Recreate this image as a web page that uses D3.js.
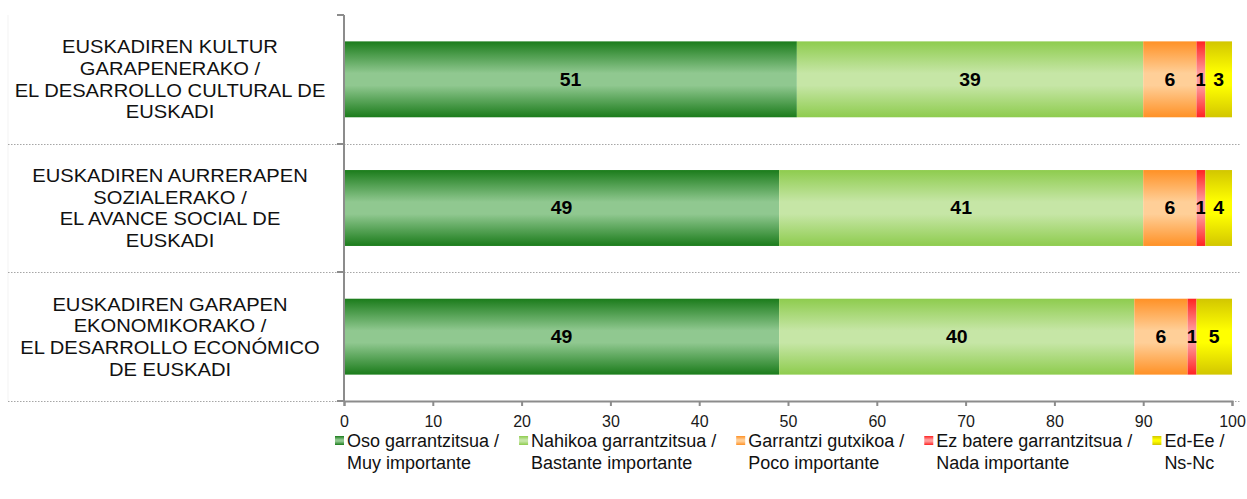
<!DOCTYPE html>
<meta charset="utf-8">
<style>
  body { margin: 0; background: #fff; }
  text { font-family: "Liberation Sans", Arial, sans-serif; }
</style>
<svg width="1247" height="499"></svg>
<script src="https://cdn.jsdelivr.net/npm/d3@7"></script>
<script>

    // category labels, one array of lines each
    var categories = [
        ["EUSKADIREN KULTUR", "GARAPENERAKO /", "EL DESARROLLO CULTURAL DE", "EUSKADI"],
        ["EUSKADIREN AURRERAPEN", "SOZIALERAKO /", "EL AVANCE SOCIAL DE", "EUSKADI"],
        ["EUSKADIREN GARAPEN", "EKONOMIKORAKO /", "EL DESARROLLO ECONÓMICO", "DE EUSKADI"]
    ];
    var seriesNames = [
        ["Oso garrantzitsua /", "Muy importante"],
        ["Nahikoa garrantzitsua /", "Bastante importante"],
        ["Garrantzi gutxikoa /", "Poco importante"],
        ["Ez batere garrantzitsua /", "Nada importante"],
        ["Ed-Ee /", "Ns-Nc"]
    ];
    var osoValues = [51, 49, 49];
    var nahikoaValues = [39, 41, 40];
    var gutxiValues = [6, 6, 6];
    var nadaValues = [1, 1, 1];
    var nsncValues = [3, 4, 5];
    var xTicks = [0, 10, 20, 30, 40, 50, 60, 70, 80, 90, 100];

    // edge / middle colours of each bar gradient
    var edgeColors = ["#1b7c1b", "#8ecc4e", "#ff9126", "#ff2323", "#d2c600"];
    var midColors = ["#90c890", "#c6e6a6", "#ffcf98", "#ff9c9c", "#ffff00"];

    var allValues = [osoValues, nahikoaValues, gutxiValues, nadaValues, nsncValues];
    var keys = d3.range(allValues.length);
    var rows = categories.map(function(c, i) {
        var r = {cat: i};
        keys.forEach(function(k) { r[k] = allValues[k][i]; });
        return r;
    });

    var svg = d3.select("svg");

    var x = d3.scaleLinear().domain([0, 100]).range([344, 1232]).clamp(true);
    var y = d3.scaleBand().domain(d3.range(categories.length)).range([15, 401])
        .paddingInner(0.41).paddingOuter(0.205);

    var defs = svg.append("defs");
    keys.forEach(function(k) {
        var gr = defs.append("linearGradient").attr("id", "grad" + k)
            .attr("x1", 0).attr("y1", 0).attr("x2", 0).attr("y2", 1);
        [[0, edgeColors[k]], [0.42, midColors[k]], [0.58, midColors[k]], [1, edgeColors[k]]]
            .forEach(function(s) {
                gr.append("stop").attr("offset", s[0]).attr("stop-color", s[1]);
            });
    });

    // left faint border
    svg.append("line").attr("x1", 8).attr("x2", 8).attr("y1", 15).attr("y2", 401)
        .attr("stroke", "#f3f3f3");

    // dotted separators between categories
    var step = y.step();
    var seps = d3.range(1, categories.length + 1).map(function(i) { return y.range()[0] + i * step; });
    svg.selectAll(".sep").data(seps).enter().append("line")
        .attr("class", "sep")
        .attr("x1", 8).attr("x2", 1240)
        .attr("y1", function(d) { return Math.round(d) + 0.5; })
        .attr("y2", function(d) { return Math.round(d) + 0.5; })
        .attr("stroke", "#a6a6a6").attr("stroke-width", 1.2)
        .attr("stroke-dasharray", "1.5,1.5");

    var stack = d3.stack().keys(keys);
    var series = stack(rows);

    var layers = svg.selectAll(".layer").data(series).enter().append("g")
        .attr("class", "layer")
        .attr("fill", function(d) { return "url(#grad" + d.key + ")"; });

    layers.selectAll("rect").data(function(d) { return d; }).enter().append("rect")
        .attr("x", function(d) { return x(d[0]); })
        .attr("width", function(d) { return x(d[1]) - x(d[0]); })
        .attr("y", function(d) { return y(d.data.cat); })
        .attr("height", y.bandwidth());

    layers.selectAll("text").data(function(d) {
            return d.map(function(p) { return {p: p, key: d.key}; });
        }).enter().append("text")
        .attr("transform", function(d) {
            return "translate(" + (x(d.p[0]) + x(d.p[1])) / 2 + "," +
                (y(d.p.data.cat) + y.bandwidth() / 2) + ") scale(1.08,1)";
        })
        .attr("dy", "0.36em")
        .attr("text-anchor", "middle")
        .attr("fill", "#000")
        .attr("font-weight", "bold")
        .attr("font-size", 18)
        .text(function(d) { return d.p.data[d.key]; });

    // y axis line with ticks at band boundaries
    var yAxis = svg.append("g").attr("stroke", "#8c8c8c").attr("stroke-width", 2);
    yAxis.append("line").attr("x1", 344).attr("x2", 344).attr("y1", 15).attr("y2", 402);
    yAxis.selectAll(".yt").data([y.range()[0]].concat(seps)).enter().append("line")
        .attr("x1", 337).attr("x2", 344)
        .attr("y1", function(d) { return Math.round(d); })
        .attr("y2", function(d) { return Math.round(d); });

    // x axis
    var xAxis = svg.append("g").attr("transform", "translate(0,401)")
        .call(d3.axisBottom(x).tickValues(xTicks).tickSize(5).tickPadding(10));
    xAxis.select(".domain").attr("stroke", "#8c8c8c").attr("stroke-width", 2);
    xAxis.selectAll(".tick line").attr("stroke", "#8c8c8c").attr("stroke-width", 2);
    xAxis.selectAll(".tick text").attr("font-size", 16).attr("fill", "#1a1a1a")
        .attr("font-family", "'Liberation Sans', Arial, sans-serif");

    // category labels
    svg.selectAll(".cat").data(categories).enter().append("text")
        .attr("class", "cat")
        .attr("text-anchor", "middle")
        .attr("font-size", 18)
        .attr("fill", "#111")
        .attr("transform", function(d, i) {
            var cy = y(i) + y.bandwidth() / 2;
            return "translate(170," + (cy - 1.5 * 21.7) + ") scale(1.12,1)";
        })
        .selectAll("tspan").data(function(d) { return d; }).enter().append("tspan")
        .attr("x", 0)
        .attr("y", function(d, j) { return j * 21.7; })
        .attr("dy", "0.36em")
        .text(function(d) { return d; });

    // legend
    var legend = svg.append("g");
    var lx = 335;
    seriesNames.forEach(function(name, k) {
        var item = legend.append("g").attr("transform", "translate(" + lx + ",0)");
        item.append("rect").attr("x", 0).attr("y", 436).attr("width", 9).attr("height", 9)
            .attr("fill", "url(#grad" + k + ")");
        var t = item.append("text").attr("font-size", 18).attr("fill", "#111");
        t.selectAll("tspan").data(name).enter().append("tspan")
            .attr("x", 12)
            .attr("y", function(d, j) { return 441 + j * 22; })
            .attr("dy", "0.36em")
            .text(function(d) { return d; });
        var w = t.node().getBBox().width;
        lx += 12 + w + 20;
    });
</script>
